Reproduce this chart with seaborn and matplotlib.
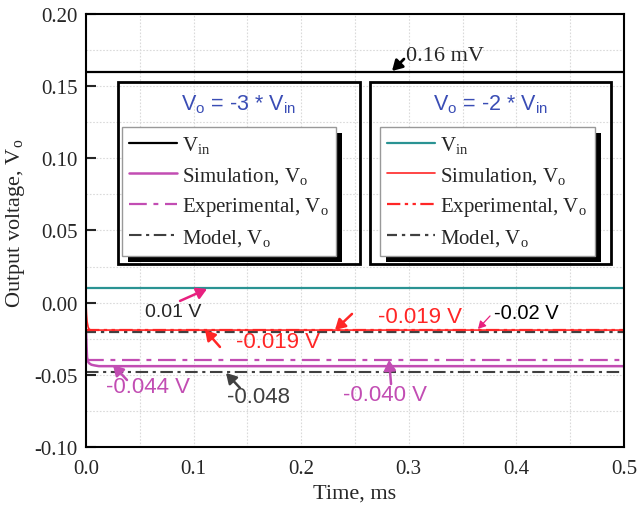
import numpy as np
import pandas as pd
import matplotlib
matplotlib.use("Agg")
import matplotlib.pyplot as plt
import seaborn as sns
from matplotlib.patches import Rectangle
from matplotlib.ticker import MultipleLocator

# ---------------- data ----------------
t_sim_a = [0.0, 0.0005, 0.001, 0.002, 0.003, 0.005, 0.008, 0.012, 0.5]
v_sim_a = [-0.018, -0.030, -0.038, -0.041, -0.042, -0.043, -0.0435, -0.044, -0.044]
t_sim_b = [0.0, 0.0005, 0.001, 0.002, 0.003, 0.005, 0.5]
v_sim_b = [0.0, -0.008, -0.013, -0.017, -0.0185, -0.019, -0.019]
t_const = [0.0, 0.5]
vin_a = [0.16, 0.16]
vin_b = [0.01, 0.01]
exp_a = [-0.040, -0.040]
model_a = [-0.048, -0.048]
exp_b = [-0.019, -0.019]
model_b = [-0.020, -0.020]

x_ticks = [0.0, 0.1, 0.2, 0.3, 0.4, 0.5]
y_ticks = [-0.10, -0.05, 0.00, 0.05, 0.10, 0.15, 0.20]

C_MAG = "#c24db3"
C_TEAL = "#2a9393"
C_RED = "#ff2626"
C_GRAY = "#404040"
C_BLUE = "#3a4db5"
C_PINK = "#e8207f"

sns.set_style("white")
plt.rcParams["font.family"] = ["Liberation Serif", "DejaVu Serif"]
plt.rcParams["mathtext.fontset"] = "custom"
plt.rcParams["mathtext.rm"] = "Liberation Serif"

fig = plt.figure(figsize=(6.37, 5.10), dpi=100)
ax = fig.add_axes([0.135, 0.1216, 0.8446, 0.849])

def line(x, y, color, lw, dashes=None, label=None, z=2):
    df = pd.DataFrame({"t": x, "v": y})
    sns.lineplot(data=df, x="t", y="v", ax=ax, color=color, lw=lw, label=label,
                 legend=False, zorder=z)
    ln = ax.lines[-1]
    if dashes is not None:
        ln.set_dashes(dashes)
    return ln

h_vin_a = line(t_const, vin_a, "black", 1.6)
h_vin_b = line(t_const, vin_b, C_TEAL, 1.6)
h_mod_a = line(t_const, model_a, C_GRAY, 1.5, dashes=(6, 2.2, 1.5, 2.2))
h_exp_a = line(t_const, exp_a, C_MAG, 1.6, dashes=(8, 3, 2.2, 3))
h_sim_a = line(t_sim_a, v_sim_a, C_MAG, 1.8)
h_mod_b = line(t_const, model_b, C_GRAY, 1.6, dashes=(4.5, 2.2, 1.5, 2.2))
h_exp_b = line(t_const, exp_b, C_RED, 1.6, dashes=(6, 2, 1.5, 2, 1.5, 2))
h_sim_b = line(t_sim_b, v_sim_b, C_RED, 1.2)

ax.set_xlim(0, 0.5)
ax.set_ylim(-0.10, 0.20)
ax.set_xticks(x_ticks)
ax.set_xticklabels([f"{v:.1f}" for v in x_ticks])
ax.set_yticks(y_ticks)
ax.set_yticklabels([f"{v:.2f}" for v in y_ticks])
ax.xaxis.set_minor_locator(MultipleLocator(0.05))
ax.yaxis.set_minor_locator(MultipleLocator(0.025))
ax.grid(which="both", color="#dadada", linestyle=(0, (1.5, 1.5)), lw=0.8)
ax.set_axisbelow(True)
ax.tick_params(axis="y", which="major", direction="in", length=7, width=1.5,
               labelsize=15, pad=6, left=True)
ax.tick_params(axis="x", which="major", length=0, labelsize=15, pad=9)
ax.tick_params(which="minor", length=0)
for s in ax.spines.values():
    s.set_linewidth(1.5)
    s.set_color("black")
ax.set_xlabel("Time, ms", fontsize=16, labelpad=4)
ax.set_ylabel(r"Output voltage, $\mathregular{V_o}$", fontsize=16, labelpad=6)
ax.yaxis.set_label_coords(-0.11, 0.52)

# outer boxes
for x0, x1 in [(0.0595, 0.509), (0.528, 0.976)]:
    ax.add_patch(Rectangle((x0, 0.4226), x1 - x0, 0.843 - 0.4226, transform=ax.transAxes,
                           fill=False, ec="black", lw=2.0, zorder=4))

ax.text(0.284, 0.792, r"$\mathregular{V_o}$ = -3 * $\mathregular{V_{in}}$", transform=ax.transAxes,
        ha="center", va="center", color=C_BLUE, fontsize=15.5,
        family=["Liberation Sans", "DejaVu Sans"], zorder=6)
ax.text(0.752, 0.792, r"$\mathregular{V_o}$ = -2 * $\mathregular{V_{in}}$", transform=ax.transAxes,
        ha="center", va="center", color=C_BLUE, fontsize=15.5,
        family=["Liberation Sans", "DejaVu Sans"], zorder=6)

labels = [r"$\mathregular{V_{in}}$", r"Simulation, $\mathregular{V_o}$",
          r"Experimental, $\mathregular{V_o}$", r"Model, $\mathregular{V_o}$"]
leg_kw = dict(loc="upper left", fontsize=15, handlelength=2.3, handletextpad=0.25,
              labelspacing=0.45, borderpad=0.35, borderaxespad=0, fancybox=False,
              framealpha=1, edgecolor="#999999", facecolor="white")
leg1 = ax.legend([h_vin_a, h_sim_a, h_exp_a, h_mod_a], labels,
                 bbox_to_anchor=(0.0669, 0.739), **leg_kw)
ax.add_artist(leg1)
leg2 = ax.legend([h_vin_b, h_sim_b, h_exp_b, h_mod_b], labels,
                 bbox_to_anchor=(0.5465, 0.739), **leg_kw)
for lg in (leg1, leg2):
    lg.set_zorder(7)
    lg.get_frame().set_linewidth(1.0)

# annotations
def arrow(tail, tip, color, lw=1.5, hw=0.35, hl=0.6):
    ax.annotate("", xy=tip, xytext=tail,
                arrowprops=dict(arrowstyle=f"-|>,head_width={hw},head_length={hl}",
                                color=color, lw=lw, shrinkA=0, shrinkB=0), zorder=8)

sans = ["Liberation Sans", "DejaVu Sans"]
ax.text(0.2975, 0.1712, "0.16 mV", ha="left", va="center", fontsize=16, zorder=8)
arrow((0.2955, 0.1688), (0.2844, 0.1605), "black", lw=2.0)

ax.text(0.0808, -0.0058, "0.01 V", ha="center", va="center", fontsize=14, family=sans, zorder=8)
arrow((0.0874, 0.0012), (0.1125, 0.0095), C_PINK, lw=1.8)

ax.text(0.178, -0.0272, "-0.019 V", ha="center", va="center", fontsize=16, color=C_RED, family=sans, zorder=8)
arrow((0.1245, -0.0307), (0.1106, -0.0189), C_RED, lw=1.8)

ax.text(0.3104, -0.0099, "-0.019 V", ha="center", va="center", fontsize=16, color=C_RED, family=sans, zorder=8)
arrow((0.2472, -0.0078), (0.2314, -0.0189), C_RED, lw=1.8)

ax.text(0.4089, -0.0065, "-0.02 V", ha="center", va="center", fontsize=14.5, color="black", family=sans, zorder=8)
arrow((0.3755, -0.0092), (0.3643, -0.0182), C_PINK, lw=0.9, hw=0.25, hl=0.45)

ax.text(0.0576, -0.0584, "-0.044 V", ha="center", va="center", fontsize=16, color=C_MAG, family=sans, zorder=8)
arrow((0.0381, -0.0536), (0.0251, -0.0432), C_MAG, lw=1.8)

ax.text(0.1599, -0.0647, "-0.048", ha="center", va="center", fontsize=16, color=C_GRAY, family=sans, zorder=8)
arrow((0.1431, -0.0591), (0.1301, -0.0487), C_GRAY, lw=1.8)

ax.text(0.2779, -0.0633, "-0.040 V", ha="center", va="center", fontsize=16, color=C_MAG, family=sans, zorder=8)
arrow((0.2835, -0.0564), (0.2816, -0.0397), C_MAG, lw=1.8)

# legend shadows
fig.canvas.draw()
inv = ax.transAxes.inverted()
for lg in (leg1, leg2):
    bb = lg.get_window_extent()
    (x0, y0) = inv.transform((bb.x0 + 6, bb.y0 - 6))
    (x1, y1) = inv.transform((bb.x1 + 6, bb.y1 - 6))
    ax.add_patch(Rectangle((x0, y0), x1 - x0, y1 - y0, transform=ax.transAxes,
                           fc="black", ec="none", zorder=6.5))

fig.savefig("out.png", dpi=100)
